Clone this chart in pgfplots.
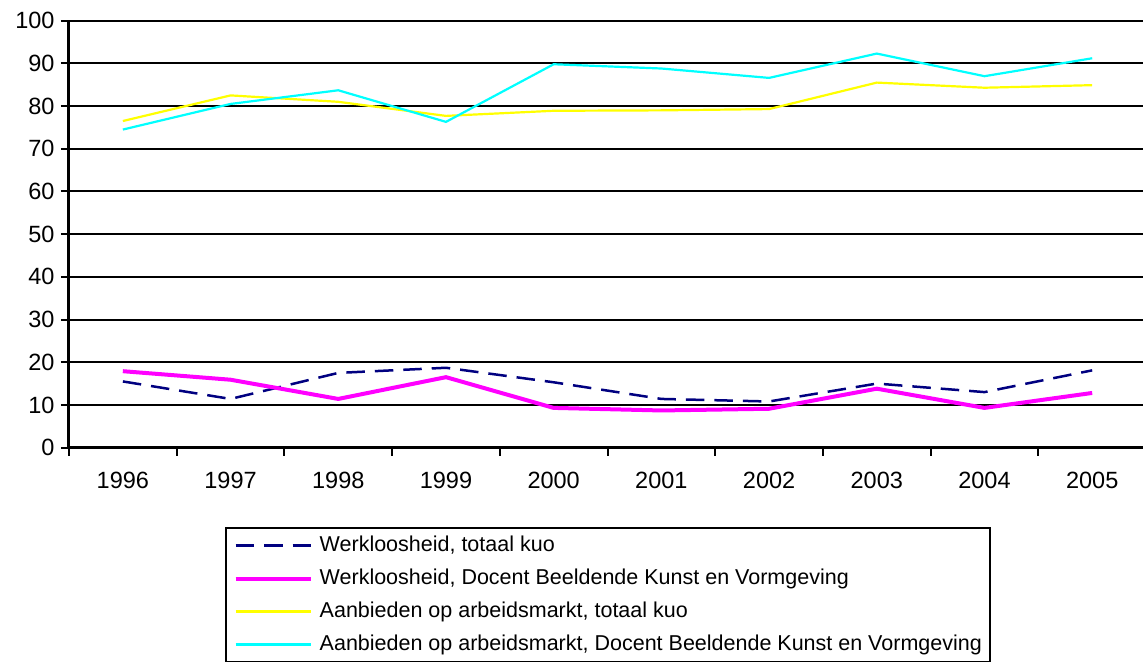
\documentclass[border=0pt]{standalone}
\usepackage{fontspec}
\setmainfont{Liberation Sans}
\usepackage{pgfplots}
\pgfplotsset{compat=1.18}
\definecolor{navyc}{HTML}{000080}
\definecolor{pinkc}{HTML}{FF00FF}
\definecolor{yellowc}{HTML}{FFFF00}
\definecolor{cyanc}{HTML}{00FFFF}
\begin{document}
\begin{tikzpicture}
\useasboundingbox (-69bp,-214.4bp) rectangle (1074bp,447.6bp);
\begin{axis}[
  at={(0,0)}, anchor=south west,
  scale only axis, width=1074bp, height=426.9bp,
  xmin=-0.5, xmax=9.472, ymin=0, ymax=100,
  axis x line=bottom, axis y line=left,
  axis line style={line width=3bp, -},
  ytick={0,10,...,100},
  ymajorgrids, grid style={black, line width=2bp},
  tick align=outside, major tick length=8bp,
  tick style={black, line width=2bp},
  xtick={0,...,9},
  xticklabels={1996,1997,1998,1999,2000,2001,2002,2003,2004,2005},
  major x tick style={draw=none},
  minor xtick={-0.5,0.5,...,8.5},
  minor x tick style={black, line width=2bp},
  minor tick length=8bp,
  /pgf/number format/assume math mode=true,
  ticklabel style={font=\fontsize{23.5bp}{27bp}\selectfont},
  xticklabel style={yshift=-13bp},
  yticklabel style={xshift=-3bp},
  clip=false,
  legend style={at={(axis description cs:0.145,-0.186)}, anchor=north west,
    draw=black, line width=2bp, font=\fontsize{21.5bp}{25bp}\selectfont,
    inner xsep=8bp, inner ysep=7bp, row sep=12bp, column sep=7bp,
    nodes={inner sep=0pt, text height=16bp, text depth=5bp}},
  legend cell align=left,
  legend image code/.code={\draw[#1] (0bp,0bp) -- (75bp,0bp);},
]
\addplot[navyc, line width=2.5bp, dash pattern=on 18.5bp off 10bp] coordinates {
(0,15.5) (1,11.4) (2,17.5) (3,18.7) (4,15.3) (5,11.4) (6,10.8) (7,15.0) (8,13.0) (9,18.1)};
\addlegendentry{Werkloosheid, totaal kuo}
\addplot[pinkc, line width=4bp] coordinates {
(0,17.9) (1,15.9) (2,11.4) (3,16.5) (4,9.3) (5,8.7) (6,9.1) (7,13.8) (8,9.3) (9,12.8)};
\addlegendentry{Werkloosheid, Docent Beeldende Kunst en Vormgeving}
\addplot[yellowc, line width=2.2bp] coordinates {
(0,76.5) (1,82.5) (2,81.0) (3,77.7) (4,78.9) (5,79.0) (6,79.3) (7,85.5) (8,84.3) (9,84.9)};
\addlegendentry{Aanbieden op arbeidsmarkt, totaal kuo}
\addplot[cyanc, line width=2.2bp] coordinates {
(0,74.5) (1,80.5) (2,83.7) (3,76.3) (4,89.8) (5,88.8) (6,86.6) (7,92.3) (8,87.0) (9,91.2)};
\addlegendentry{Aanbieden op arbeidsmarkt, Docent Beeldende Kunst en Vormgeving}
\end{axis}
\end{tikzpicture}
\end{document}
